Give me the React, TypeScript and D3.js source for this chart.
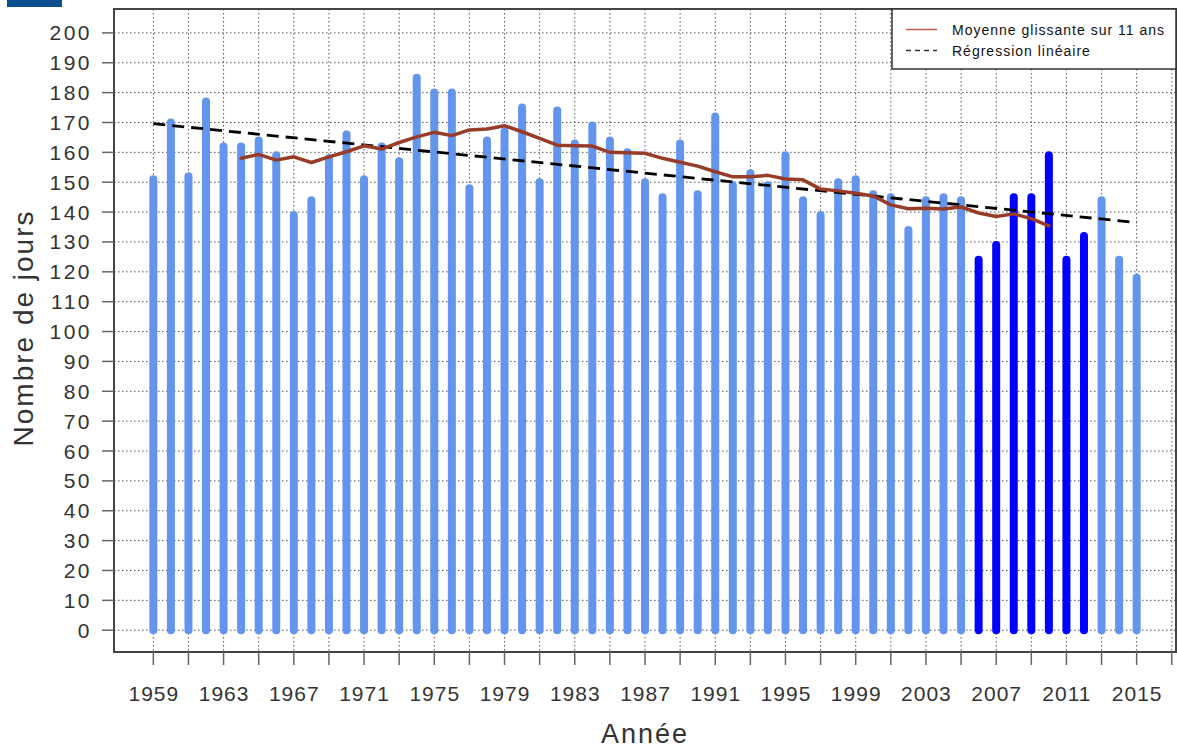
import React from "react";
import * as d3 from "d3";

const years = [
  1959, 1960, 1961, 1962, 1963, 1964, 1965, 1966, 1967, 1968, 1969, 1970, 1971, 1972, 1973, 1974, 1975, 1976, 1977,
  1978, 1979, 1980, 1981, 1982, 1983, 1984, 1985, 1986, 1987, 1988, 1989, 1990, 1991, 1992, 1993, 1994, 1995, 1996,
  1997, 1998, 1999, 2000, 2001, 2002, 2003, 2004, 2005, 2006, 2007, 2008, 2009, 2010, 2011, 2012, 2013, 2014, 2015,
];
const days = [
  151, 170, 152, 177, 162, 162, 164, 159, 139, 144, 158, 166, 151, 162, 157, 185, 180, 180, 148,
  164, 167, 175, 150, 174, 163, 169, 164, 160, 150, 145, 163, 146, 172, 149, 153, 149, 159, 144,
  139, 150, 151, 146, 145, 134, 144, 145, 144, 124, 129, 145, 145, 159, 124, 132, 144, 124, 118,
];
const highlightYears = [2006, 2007, 2008, 2009, 2010, 2011, 2012];

const maYears = [
  1964, 1965, 1966, 1967, 1968, 1969, 1970, 1971, 1972, 1973, 1974, 1975, 1976, 1977, 1978, 1979, 1980, 1981, 1982,
  1983, 1984, 1985, 1986, 1987, 1988, 1989, 1990, 1991, 1992, 1993, 1994, 1995, 1996, 1997, 1998, 1999, 2000, 2001,
  2002, 2003, 2004, 2005, 2006, 2007, 2008, 2009, 2010,
];
const maValues = [
  158.0, 159.3, 157.4, 158.5, 156.6, 158.5, 160.2, 162.2, 161.1, 163.3, 165.2, 166.7, 165.6, 167.5, 167.8, 168.9,
  166.9, 164.7, 162.4, 162.2, 162.1, 160.0, 159.9, 159.7, 158.0, 156.7, 155.4, 153.5, 151.8, 151.8, 152.3, 151.1,
  150.8, 147.7, 147.1, 146.3, 145.4, 142.4, 141.1, 141.3, 141.0, 141.7, 139.7, 138.5, 139.4, 137.8, 135.4,
];
const regYears = [1959, 2015];
const regValues = [169.6, 136.5];

const yTicks = [0, 10, 20, 30, 40, 50, 60, 70, 80, 90, 100, 110, 120, 130, 140, 150, 160, 170, 180, 190, 200];
const xTickYears = [
  1959, 1961, 1963, 1965, 1967, 1969, 1971, 1973, 1975, 1977, 1979, 1981, 1983, 1985, 1987, 1989, 1991, 1993, 1995,
  1997, 1999, 2001, 2003, 2005, 2007, 2009, 2011, 2013, 2015, 2017,
];
const xLabelYears = [1959, 1963, 1967, 1971, 1975, 1979, 1983, 1987, 1991, 1995, 1999, 2003, 2007, 2011, 2015];

const legendLabels = ["Moyenne glissante sur 11 ans", "Régression linéaire"];
const yTitle = "Nombre de jours";
const xTitle = "Année";

const W = 1177;
const H = 751;
const L = 114;
const R = 1176;
const T = 9;
const B = 652;

const FONT = "'Liberation Sans', Arial, Helvetica, sans-serif";
const lightBlue = "#6495ED";
const darkBlue = "#0000FF";
const brown = "#983C2A";
const textCol = "#333333";
const gridCol = "#555555";

export default function App() {
  const x = d3.scaleLinear().domain([1956.76, 2017.24]).range([L, R]);
  const y = d3.scaleLinear().domain([-7.3, 208]).range([B, T]);

  const maLine = d3
    .line<number>()
    .x((_, i) => x(maYears[i]))
    .y((d) => y(d))
    .curve(d3.curveLinear)(maValues) as string;
  const regLine = d3
    .line<number>()
    .x((_, i) => x(regYears[i]))
    .y((d) => y(d))(regValues) as string;

  return (
    <svg
      width={W}
      height={H}
      style={{ position: "absolute", left: 0, top: 0, background: "#fff", fontFamily: FONT }}
    >
      <rect x={0} y={0} width={W} height={H} fill="#fff" />
      <rect x={7} y={0} width={55} height={7} fill="#0B4E8E" />

      {/* grid */}
      <g stroke={gridCol} strokeWidth={1} strokeDasharray="1.5,2.5" fill="none">
        {yTicks.map((t) => (
          <line key={"gy" + t} x1={L} x2={R} y1={y(t)} y2={y(t)} />
        ))}
        {xTickYears.map((t) => (
          <line key={"gx" + t} x1={x(t)} x2={x(t)} y1={T} y2={B} />
        ))}
      </g>

      {/* bars */}
      <g strokeLinecap="round" strokeWidth={8}>
        {years.map((yr, i) => (
          <line
            key={"b" + yr}
            x1={x(yr)}
            x2={x(yr)}
            y1={y(0)}
            y2={y(days[i])}
            stroke={highlightYears.includes(yr) ? darkBlue : lightBlue}
          />
        ))}
      </g>

      {/* regression */}
      <path d={regLine} fill="none" stroke="#000" strokeWidth={2.8} strokeDasharray="12,7" />
      {/* moving average */}
      <path d={maLine} fill="none" stroke={brown} strokeWidth={3.5} strokeLinejoin="round" strokeLinecap="round" />

      {/* box */}
      <rect x={L} y={T} width={R - L} height={B - T} fill="none" stroke="#444" strokeWidth={2} />

      {/* y axis */}
      <g>
        {yTicks.map((t) => (
          <g key={"yt" + t}>
            <line x1={102} x2={L} y1={y(t)} y2={y(t)} stroke="#666" strokeWidth={1.5} />
            <text
              x={92}
              y={y(t) + 7.5}
              textAnchor="end"
              fontSize={21}
              letterSpacing={2.5}
              fill={textCol}
            >
              {t}
            </text>
          </g>
        ))}
      </g>

      {/* x axis */}
      <g>
        {xTickYears.map((t) => (
          <line key={"xt" + t} x1={x(t)} x2={x(t)} y1={B} y2={665} stroke="#666" strokeWidth={1.5} />
        ))}
        {xLabelYears.map((t) => (
          <text key={"xl" + t} x={x(t) + 0.5} y={701} textAnchor="middle" fontSize={21} letterSpacing={1} fill={textCol}>
            {t}
          </text>
        ))}
      </g>

      {/* titles */}
      <text x={645} y={743} textAnchor="middle" fontSize={27} letterSpacing={2} fill={textCol}>
        {xTitle}
      </text>
      <text
        transform="translate(33,328) rotate(-90)"
        textAnchor="middle"
        fontSize={28}
        letterSpacing={2}
        fill={textCol}
      >
        {yTitle}
      </text>

      {/* legend */}
      <g>
        <rect x={892} y={T} width={R - 892} height={60} fill="#fff" stroke="#333" strokeWidth={1.5} />
        <line x1={906} x2={937} y1={29.5} y2={29.5} stroke="#B85A48" strokeWidth={1.5} />
        <line x1={906} x2={937} y1={50.5} y2={50.5} stroke="#333" strokeWidth={1.5} strokeDasharray="5,4" />
        <text x={952} y={34.5} fontSize={14} letterSpacing={1} fill="#111">
          {legendLabels[0]}
        </text>
        <text x={952} y={55.5} fontSize={14} letterSpacing={1} fill="#111">
          {legendLabels[1]}
        </text>
      </g>
    </svg>
  );
}
